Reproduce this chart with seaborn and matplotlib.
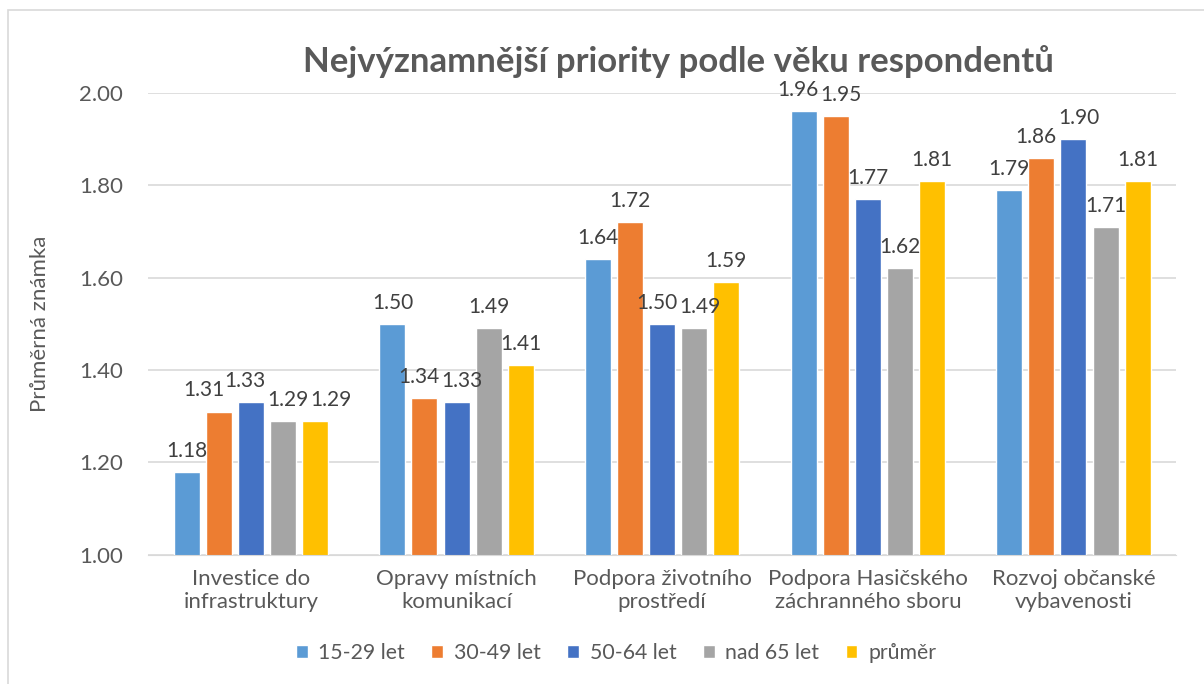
import pandas as pd
import numpy as np
import seaborn as sns
import matplotlib.pyplot as plt
from matplotlib.patches import Rectangle

categories = ['Investice do\ninfrastruktury', 'Opravy místních\nkomunikací',
              'Podpora životního\nprostředí', 'Podpora Hasičského\nzáchranného sboru',
              'Rozvoj občanské\nvybavenosti']
groups = ['15-29 let', '30-49 let', '50-64 let', 'nad 65 let', 'průměr']
v_15_29 = [1.18, 1.50, 1.64, 1.96, 1.79]
v_30_49 = [1.31, 1.34, 1.72, 1.95, 1.86]
v_50_64 = [1.33, 1.33, 1.50, 1.77, 1.90]
v_65 = [1.29, 1.49, 1.49, 1.62, 1.71]
v_avg = [1.29, 1.41, 1.59, 1.81, 1.81]
colors = ['#5B9BD5', '#ED7D31', '#4472C4', '#A5A5A5', '#FFC000']

df = pd.DataFrame({'kategorie': categories * 5,
                   'skupina': np.repeat(groups, 5),
                   'hodnota': v_15_29 + v_30_49 + v_50_64 + v_65 + v_avg})

sns.set_style('white')
plt.rcParams['font.family'] = ['Lato', 'DejaVu Sans']
txt = '#595959'

fig = plt.figure(figsize=(12.04, 6.84), dpi=100)
ax = fig.add_axes([0.123, 0.189, 0.854, 0.675])
# chart frame (only left and top edges are visible in the reference)
fig.patches.append(Rectangle((8 / 1204, -0.1), 1.2, 1 - 10 / 684 + 0.1, transform=fig.transFigure,
                             fill=False, edgecolor='#D9D9D9', linewidth=1.2))

sns.barplot(data=df, x='kategorie', y='hodnota', hue='skupina', palette=colors,
            width=0.78, gap=0.19, ax=ax, saturation=1)

ax.set_ylim(1.0, 2.0)
ticks = np.arange(1.0, 2.01, 0.2)
ax.set_yticks(ticks)
ax.set_yticklabels([f'{t:.2f}' for t in ticks], color=txt, fontsize=16)
ax.tick_params(axis='x', labelsize=16, colors=txt, length=0, pad=10)
ax.tick_params(axis='y', length=0, pad=18)
ax.grid(axis='y', color='#D9D9D9', linewidth=1.2)
ax.set_axisbelow(True)
for s in ['top', 'right', 'left']:
    ax.spines[s].set_visible(False)
ax.spines['bottom'].set_color('#D9D9D9')
ax.set_xlabel('')
ax.set_ylabel('Průměrná známka', color=txt, fontsize=16)
ax.yaxis.set_label_coords(-0.095, 0.5)
fig.text(678 / 1204, 1 - 62 / 684, 'Nejvýznamnější priority podle věku respondentů',
         fontsize=25, fontweight='bold', color=txt, ha='center', va='center')

labels = []
for cont in ax.containers:
    labels.append(ax.bar_label(cont, fmt='%.2f', padding=8, fontsize=15, color='#404040'))

# push neighbouring labels apart sideways, as Excel does
fig.canvas.draw()
r = fig.canvas.get_renderer()
px2pt = 72 / fig.dpi
for i in range(len(categories)):
    row = [labels[k][i] for k in range(len(labels))]
    for _ in range(4):
        for a, b in zip(row[:-1], row[1:]):
            ba, bb = a.get_window_extent(r), b.get_window_extent(r)
            if ba.y1 > bb.y0 and bb.y1 > ba.y0 and ba.x1 + 2 > bb.x0:
                d = (ba.x1 + 2 - bb.x0) / 2 * px2pt
                xa, ya = a.xyann
                xb, yb = b.xyann
                a.xyann = (xa - d, ya)
                b.xyann = (xb + d, yb)

ax.legend(loc='center', bbox_to_anchor=(0.455, (555 - 653) / 462), ncol=5, frameon=False,
          fontsize=15.3, handlelength=0.55, handleheight=0.55, handletextpad=0.5,
          columnspacing=1.25, labelcolor=txt)

plt.savefig('out.png', dpi=100)
